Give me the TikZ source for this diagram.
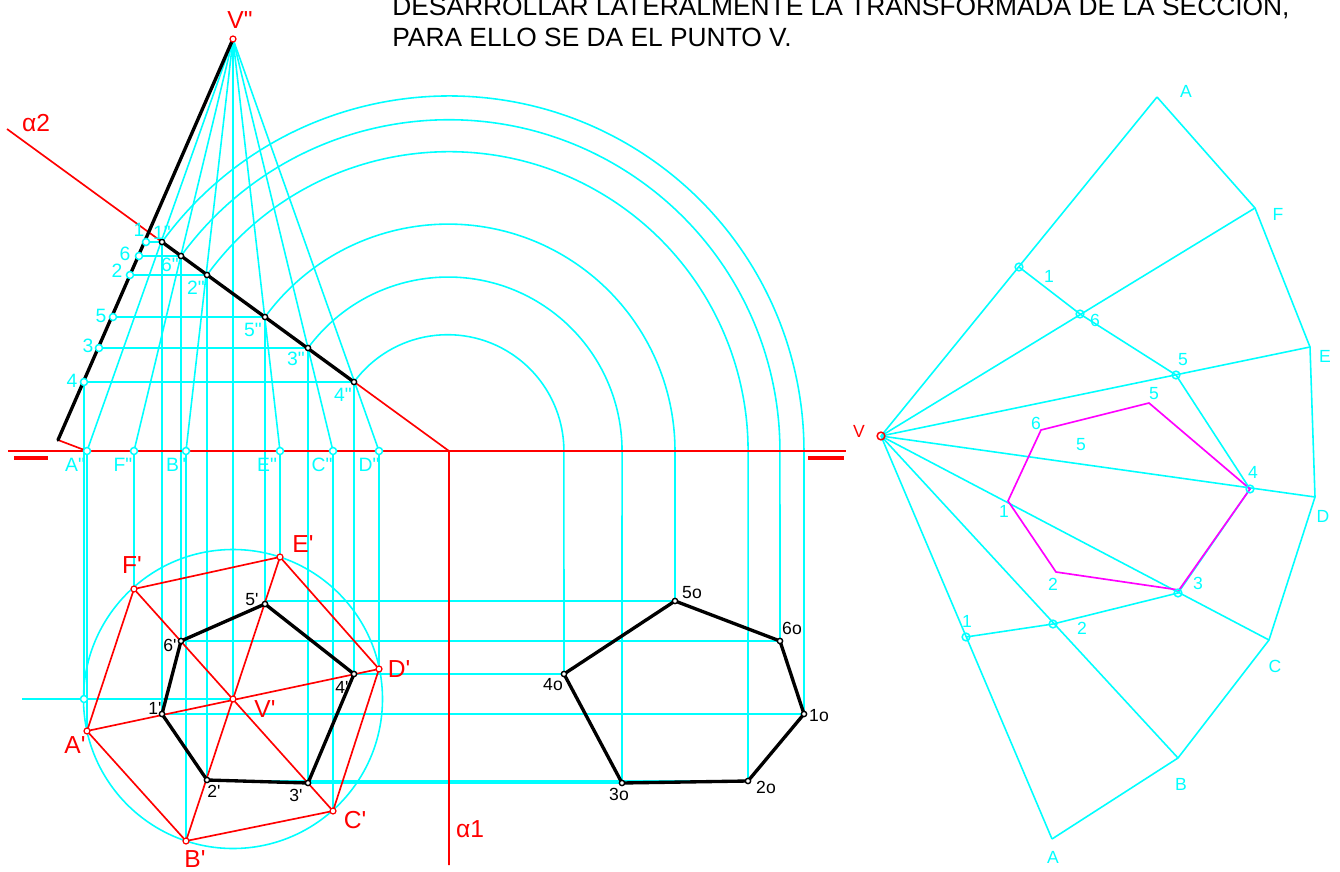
\documentclass[tikz,border=0pt]{standalone}
\usepackage{fontspec}
\newfontfamily\lblfont{Liberation Sans}
\definecolor{cyanline}{RGB}{0,255,255}
\definecolor{magline}{RGB}{255,0,255}
\tikzset{
  cyanln/.style={line width=0.9pt,cyanline},
  redln/.style={line width=0.95pt,red},
  blackln/.style={line width=1.9pt,black,line cap=round,line join=round},
  magln/.style={line width=0.95pt,magline},
  ringc/.style={circle,draw=cyanline,fill=white,line width=0.85pt,inner sep=0pt,minimum size=4pt},
  ringo/.style={circle,draw=cyanline,line width=0.85pt,inner sep=0pt,minimum size=4.4pt},
  ringr/.style={circle,draw=red,fill=white,line width=0.7pt,inner sep=0pt,minimum size=3.4pt},
  ringk/.style={circle,draw=black,fill=white,line width=0.8pt,inner sep=0pt,minimum size=3pt},
  lblc/.style={text=cyanline,inner sep=0pt,font=\lblfont\fontsize{11}{11}\selectfont},
  lblr/.style={text=red,inner sep=0pt,font=\lblfont\fontsize{14}{14}\selectfont},
  lblk/.style={text=black,inner sep=0pt,font=\lblfont\fontsize{10}{10}\selectfont},
  lblt/.style={text=black,inner sep=0pt,anchor=base west,font=\lblfont\fontsize{15}{15}\selectfont},
}
\begin{document}
\begin{tikzpicture}[x=0.02cm,y=-0.02cm]
\useasboundingbox (0,0) rectangle (1340,872);
% vertex and ground line
\coordinate (Vee) at (233,39);
\coordinate (Vp) at (233,699);
\coordinate (edge) at (58,440);
\coordinate (gl1) at (8,451);
\coordinate (gl2) at (846,451);
\coordinate (al1) at (7,129);
\coordinate (al0) at (449,451);
\coordinate (al2) at (449,865);
\coordinate (rot) at (84,699);
\coordinate (rotend) at (22,699);
% base, elevation and plan
\foreach \n/\xe/\xp/\yp in {A/87/87/731,F/134/134/589,B/186/186/841,E/280/280/557,C/333/333/811,D/379/379/669}{
  \coordinate (\n e) at (\xe,451);
  \coordinate (\n p) at (\xp,\yp);
}
% section: on alpha2, on the edge, in plan, true shape
\foreach \i/\xs/\ys/\xf/\xo/\yp/\yo in {1/162/242/146/804/714/714,6/181/256/139/780/641/641,2/207/275/130/748/780/781,5/265/317/113/675/604/601,3/308/348/99/622/783/783,4/354/382/84/564/674/674}{
  \coordinate (s\i) at (\xs,\ys);
  \coordinate (f\i) at (\xf,\ys);
  \coordinate (p\i) at (\xs,\yp);
  \coordinate (o\i) at (\xo,\yo);
}
% development
\coordinate (Vd) at (881,436);
\foreach \n/\x/\y in {dA/1157/97,dF/1255/208,dE/1310/347,dD/1315/497,dC/1269/640,dB/1178/758,dG/1052/839,
  dt1/1019/267,dt6/1080/314,dt5/1176/375,dt4/1250/489,dt3/1178/593,dt2/1053/624,dt7/966/637,
  dm6/1041/430,dm5/1149/403,dm4/1250/489,dm3/1179/590,dm2/1056/572,dm1/1008/501}{
  \coordinate (\n) at (\x,\y);
}

% construction lines
\draw[cyanln] (Vee)--(Vp);
\draw[cyanln] (rotend)--(Vp);
\draw[cyanln] (Vp) circle[radius=149.5];
\draw[cyanln] (f4)--(rot);
\foreach \n in {A,F,B,E,C,D}{
  \draw[cyanln] (Vee)--(\n e)--(\n p);
}
\foreach \i/\r/\a in {1/355/143.94,6/331.2/143.94,2/299.1/144,5/226.9/143.8,3/173.9/143.7,4/116.3/143.6}{
  \draw[cyanln] (s\i) arc[start angle=-\a,end angle=0,radius=\r]--(o\i);
  \draw[cyanln] (f\i)--(s\i)--(p\i);
  \draw[cyanln] (p\i |- o\i)--(o\i);
}
% development lines
\foreach \n in {dA,dF,dE,dD,dC,dB,dG}{
  \draw[cyanln] (Vd)--(\n);
}
\draw[cyanln] (dA)--(dF)--(dE)--(dD)--(dC)--(dB)--(dG);
\draw[cyanln] (dt1)--(dt6)--(dt5)--(dt4)--(dt3)--(dt2)--(dt7);
\draw[magln] (dm6)--(dm5)--(dm4)--(dm3)--(dm2)--(dm1)--cycle;

% planes and plan of the pyramid
\draw[redln] (gl1)--(gl2);
\draw[redln] (al1)--(al0)--(al2);
\draw[red,line width=2pt] (14,458)--(48,458);
\draw[red,line width=2pt] (808,458)--(844,458);
\draw[redln] (edge)--(Ae);
\draw[redln] (Ap)--(Fp)--(Ep)--(Dp)--(Cp)--(Bp)--cycle;
\draw[redln] (Ap)--(Dp);
\draw[redln] (Fp)--(Cp);
\draw[redln] (Ep)--(Bp);

% section
\draw[blackln] (Vee)--(edge);
\draw[blackln] (s1)--(s4);
\draw[blackln] (p1)--(p2)--(p3)--(p4)--(p5)--(p6)--cycle;
\draw[blackln] (o1)--(o2)--(o3)--(o4)--(o5)--(o6)--cycle;

% points
\node[ringc] (rrot) at (rot) {};
\foreach \n in {A,F,B,E,C,D}{
  \node[ringc] (r\n e) at (\n e) {};
  \node[ringr] (r\n p) at (\n p) {};
}
\foreach \i in {1,...,6}{
  \node[ringc] (rf\i) at (f\i) {};
  \node[ringk] (rs\i) at (s\i) {};
  \node[ringk] (rp\i) at (p\i) {};
  \node[ringk] (ro\i) at (o\i) {};
}
\node[ringr] (rVee) at (Vee) {};
\node[ringr] (rVp) at (Vp) {};
\node[ringr,minimum size=4.4pt,line width=0.85pt,fill=none] (rVd) at (Vd) {};
\foreach \n in {dt1,dt6,dt5,dt4,dt3,dt2,dt7}{
  \node[ringo] (r\n) at (\n) {};
}

% labels
\node[lblt] (title1) at (392,15) {DESARROLLAR LATERALMENTE LA TRANSFORMADA DE LA SECCION,};
\node[lblt] (title2) at (392,47) {PARA ELLO SE DA EL PUNTO V.};
\foreach \n/\x/\y/\t in {a/240/20/V",b/36/123/α2,c/470/829/α1,d/132/565/F',e/303/544/E',f/399/669/D',g/355/820/C',h/195/859/B',i/75/745/A',j/265/709/V'}{
  \node[lblr] (tr\n) at (\x,\y) {\t};
}
\node[lblr,font=\lblfont\fontsize{10}{10}\selectfont] (trv) at (859,431) {V};
\foreach \n/\x/\y/\t in {a/139/230/1,b/162/233/1",c/125/254/6,d/170/265/6",e/117/271/2,f/196/288/2",g/101/316/5,h/253/330/5",i/88/346/3,j/296/359/3",k/72/381/4,l/343/395/4",
  m/75/465/A",n/123/465/F",o/176/465/B",p/267/465/E",q/322/465/C",r/369/465/D"}{
  \node[lblc] (tc\n) at (\x,\y) {\t};
}
\foreach \n/\x/\y/\t in {a/252/600/5',b/170/645/6',c/155/708/1',d/342/687/4',e/214/791/2',f/296/795/3',g/819/716/1o,h/766/787/2o,i/619/794/3o,j/553/685/4o,k/692/593/5o,l/792/628/6o}{
  \node[lblk] (tk\n) at (\x,\y) {\t};
}
\foreach \n/\x/\y/\t in {a/1186/91/A,b/1278/214/F,c/1325/356/E,d/1323/516/D,e/1275/666/C,f/1181/784/B,g/1053/857/A,
  h/1049/276/1,i/1095/320/6,j/1183/360/5,k/1253/472/4,l/1198/583/3,m/1082/628/2,n/967/621/1,
  o/1154/394/5,p/1036/423/6,q/1004/511/1,r/1053/584/2,s/1081/445/5}{
  \node[lblc,font=\lblfont\fontsize{10}{10}\selectfont] (td\n) at (\x,\y) {\t};
}
\end{tikzpicture}
\end{document}
